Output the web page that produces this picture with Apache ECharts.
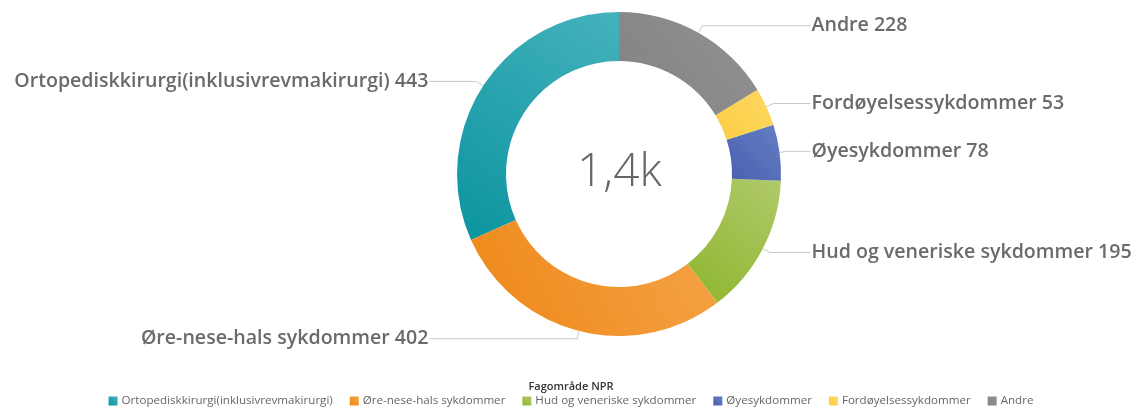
<!DOCTYPE html>
<html><head><meta charset="utf-8">
<script src="https://cdn.jsdelivr.net/npm/echarts@6/dist/echarts.min.js"></script>
<style>html,body{margin:0;padding:0;background:#fff}#c{width:1142px;height:408px}</style>
</head><body><div id="c"></div>
<script>
var categories = ['Ortopediskkirurgi(inklusivrevmakirurgi)', 'Øre-nese-hals sykdommer', 'Hud og veneriske sykdommer', 'Øyesykdommer', 'Fordøyelsessykdommer', 'Andre'];
var values = [443, 402, 195, 78, 53, 228];
var centerLabel = '1,4k';
var legendTitle = 'Fagområde NPR';
var colorsLight = ['#45B2BD', '#F4A448', '#B0C96A', '#6380C4', '#FDD862', '#929292'];
var colorsDark = ['#0B949F', '#EE8717', '#8EB62E', '#4A5FAE', '#FBCD45', '#828282'];

function grad(i) {
  return new echarts.graphic.LinearGradient(0, 1, 1, 0, [
    {offset: 0, color: colorsDark[i]}, {offset: 1, color: colorsLight[i]}
  ]);
}
var chart = echarts.init(document.getElementById('c'));
var data = categories.map(function (n, i) {
  var d = {name: n, value: values[i], itemStyle: {color: grad(i)}};
  if (i === 0) d.labelLine = {length2: 47};
  return d;
});
chart.setOption({
  animation: false,
  title: {
    text: legendTitle, left: 'center', top: 376,
    textStyle: {fontFamily: 'Open Sans', fontSize: 11, fontWeight: 600, color: '#333'}
  },
  legend: {
    data: categories, top: 390, left: 'center', icon: 'rect',
    itemWidth: 9, itemHeight: 9, itemGap: 17,
    textStyle: {fontFamily: 'Open Sans', fontSize: 11.6, color: '#666', padding: [0, 0, 0, -1]}
  },
  graphic: [{
    type: 'text', left: 619 - 42, top: 150,
    style: {text: centerLabel, font: '300 46px "Open Sans"', fill: '#666'}
  }],
  series: [{
    type: 'pie',
    center: [619, 174],
    radius: [113, 162],
    startAngle: 90,
    clockwise: false,
    avoidLabelOverlap: true,
    data: data,
    label: {
      formatter: '{b} {c}',
      fontFamily: 'Open Sans', fontSize: 19.6, fontWeight: 600, color: '#6a6a6a',
      alignTo: 'labelLine', edgeDistance: 1, distanceToLabelLine: 1
    },
    labelLine: {length: 8, length2: 23, lineStyle: {color: '#c8c8c8', width: 1}},
    emphasis: {disabled: true}
  }]
});
</script></body></html>
